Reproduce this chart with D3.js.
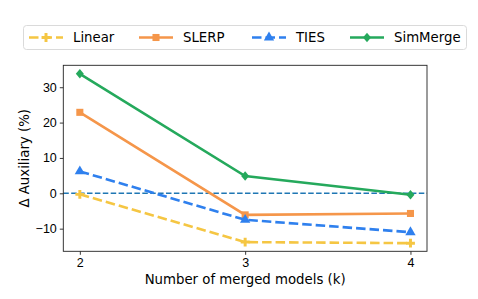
<!DOCTYPE html>
<html>
<head>
<meta charset="utf-8">
<script src="https://cdn.jsdelivr.net/npm/d3@7"></script>
<style>
  body { margin: 0; background: #fff; }
  svg { font-family: 'DejaVu Sans', sans-serif; }
  .axis text { font-size: 12.5px; fill: #000; }
  .axis path, .axis line { stroke: #222; stroke-width: 0.9; }
</style>
</head>
<body>
<svg id="chart" width="478" height="299"></svg>
<script>
const kValues = [2, 3, 4];
const linear = [-0.3, -13.8, -14.1];
const slerp = [22.9, -6.1, -5.7];
const ties = [6.2, -7.5, -11.0];
const simMerge = [33.8, 4.9, -0.4];
const yTicks = [-10, 0, 10, 20, 30];

const series = [
  { name: 'Linear', values: linear, color: '#f5c643', dashed: true, marker: 'plus' },
  { name: 'SLERP', values: slerp, color: '#f5964a', dashed: false, marker: 'square' },
  { name: 'TIES', values: ties, color: '#2f80ee', dashed: true, marker: 'triangle' },
  { name: 'SimMerge', values: simMerge, color: '#25a95c', dashed: false, marker: 'diamond' }
];

const svg = d3.select('#chart');
const margin = { top: 65.3, right: 51, bottom: 47.7, left: 63.3 };
const width = 478 - margin.left - margin.right;
const height = 299 - margin.top - margin.bottom;

const chart = svg.append('g')
  .attr('transform', `translate(${margin.left}, ${margin.top})`);

const xScale = d3.scaleLinear().domain([1.9, 4.1]).range([0, width]);
const yScale = d3.scaleLinear().domain([-16.4, 36.2]).range([height, 0]);

// zero reference line
chart.append('line')
  .attr('x1', 0).attr('x2', width)
  .attr('y1', yScale(0)).attr('y2', yScale(0))
  .attr('stroke', '#1f77b4')
  .attr('stroke-width', 1.4)
  .attr('stroke-dasharray', '5.5,2.4');

const line = d3.line()
  .x((d, i) => xScale(kValues[i]))
  .y(d => yScale(d));

function symbolPath(marker) {
  if (marker === 'square') return d3.symbol(d3.symbolSquare, 50)();
  if (marker === 'triangle') return d3.symbol(d3.symbolTriangle, 46)();
  if (marker === 'diamond') return 'M0,-4.8L4,0L0,4.8L-4,0Z';
  return d3.symbol(d3.symbolCross, 44)();
}

series.forEach(s => {
  chart.append('path')
    .datum(s.values)
    .attr('fill', 'none')
    .attr('stroke', s.color)
    .attr('stroke-width', 2.6)
    .attr('stroke-dasharray', s.dashed ? '9.5,4' : null)
    .attr('d', line);

  chart.selectAll(null)
    .data(s.values)
    .enter()
    .append('path')
    .attr('d', symbolPath(s.marker))
    .attr('fill', s.color)
    .attr('transform', (d, i) => `translate(${xScale(kValues[i])}, ${yScale(d)})`);
});

// axes
chart.append('g')
  .attr('class', 'axis')
  .attr('transform', `translate(0, ${height})`)
  .call(d3.axisBottom(xScale).tickValues(kValues).tickSize(3.5).tickPadding(3).tickFormat(d3.format('d')))
  .call(g => g.select('.domain').remove());

chart.append('g')
  .attr('class', 'axis')
  .call(d3.axisLeft(yScale).tickValues(yTicks).tickSize(3.5).tickPadding(3)
    .tickFormat(d => d < 0 ? '\u2212' + Math.abs(d) : d))
  .call(g => g.select('.domain').remove());

chart.append('rect')
  .attr('width', width).attr('height', height)
  .attr('fill', 'none')
  .attr('stroke', '#222')
  .attr('stroke-width', 0.9);

// axis labels
svg.append('text')
  .attr('x', margin.left + width / 2)
  .attr('y', 284)
  .attr('text-anchor', 'middle')
  .attr('font-size', 13.3)
  .text('Number of merged models (k)');

svg.append('text')
  .attr('transform', `translate(29, ${margin.top + height / 2}) rotate(-90)`)
  .attr('text-anchor', 'middle')
  .attr('font-size', 13.3)
  .text('\u0394 Auxiliary (%)');

// legend
const legend = svg.append('g');
legend.append('rect')
  .attr('x', 23.5).attr('y', 25.5)
  .attr('width', 443).attr('height', 24)
  .attr('rx', 3)
  .attr('fill', '#fff')
  .attr('stroke', '#d6d6d6')
  .attr('stroke-width', 0.9);

const legendX = [29, 139, 252, 350];
series.forEach((s, i) => {
  const g = legend.append('g').attr('transform', `translate(${legendX[i]}, 37.5)`);
  g.append('line')
    .attr('x1', 0).attr('x2', 34)
    .attr('stroke', s.color)
    .attr('stroke-width', 2.6)
    .attr('stroke-dasharray', s.dashed ? '9.5,4' : null);
  g.append('path')
    .attr('d', symbolPath(s.marker))
    .attr('fill', s.color)
    .attr('transform', 'translate(17, 0)');
  g.append('text')
    .attr('x', 44)
    .attr('dy', '0.35em')
    .attr('font-size', 13.3)
    .text(s.name);
});
</script>
</body>
</html>
